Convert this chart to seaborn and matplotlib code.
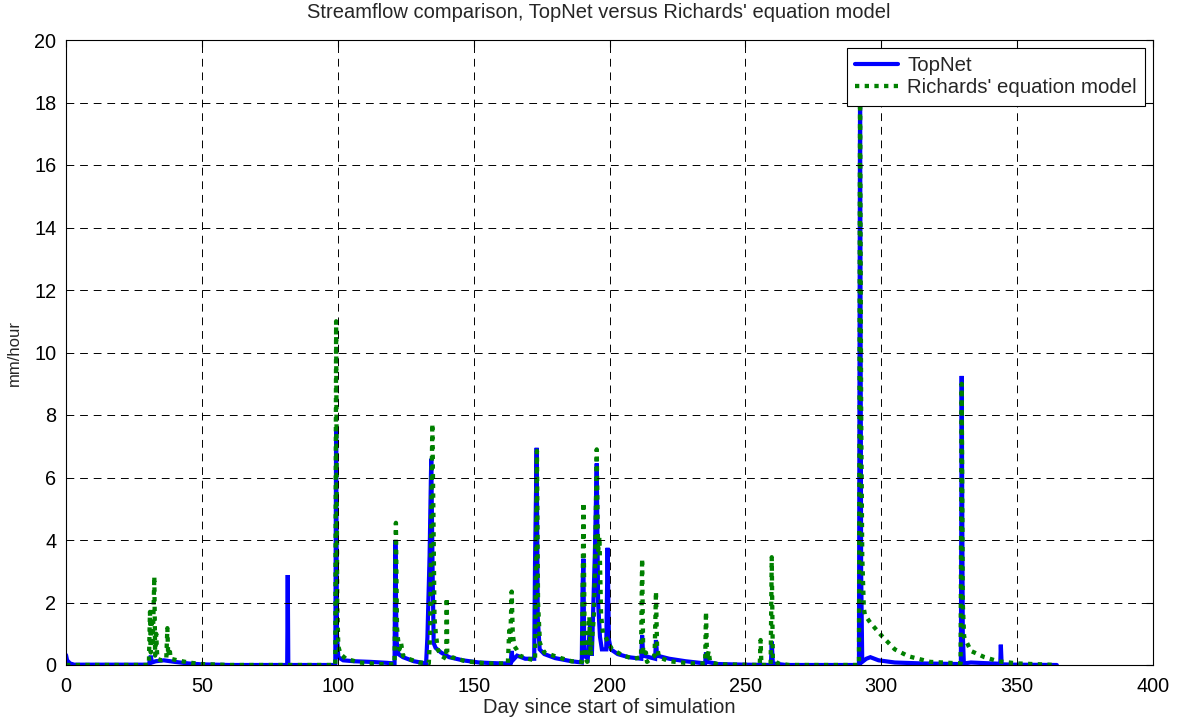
import numpy as np
import pandas as pd
import matplotlib
matplotlib.use("Agg")
import matplotlib.pyplot as plt
import seaborn as sns

# ---------------- data ----------------
topnet_days = [0, 0.4, 1.5, 3, 30.5, 31.2, 31.6, 33, 36, 40, 45, 50, 60,
               81.4, 81.6, 81.8, 99.1, 99.4, 99.7, 100.2, 102, 106, 112, 118,
               120.9, 121.2, 121.6, 122.3, 124, 128, 132.5, 133, 133.8, 134.4,
               134.9, 135.3, 136, 138, 141, 146, 152, 160, 163.6, 164, 164.4,
               166, 169, 172.3, 172.6, 173.2, 173.6, 174.3, 176, 180, 186, 189.8,
               190.1, 190.4, 190.7, 192, 193, 193.5, 194.6, 195.3, 195.8, 196.5,
               197.2, 198.8, 199.3, 199.8, 200.5, 203, 207, 211.7, 212, 212.4,
               216.8, 217.1, 217.5, 222, 228, 235.2, 235.5, 235.9, 240, 250,
               259.4, 259.7, 260.1, 265, 291.8, 292.2, 292.6, 293.0, 294.5, 296,
               299, 305, 315, 329.3, 329.6, 330, 330.4, 333, 338, 343.8, 344,
               344.3, 350, 364.6]
topnet_flow = [0.32, 0.15, 0.05, 0.01, 0.01, 0.3, 0.08, 0.12, 0.15, 0.1, 0.05, 0.02, 0.0,
               0.0, 2.88, 0.0, 0.0, 7.6, 1.0, 0.25, 0.15, 0.12, 0.1, 0.07,
               0.05, 4.0, 0.8, 0.35, 0.25, 0.12, 0.05, 0.9, 3.5, 6.6,
               3.0, 0.7, 0.55, 0.4, 0.25, 0.15, 0.08, 0.05, 0.05, 0.45, 0.15,
               0.3, 0.2, 0.2, 3.3, 6.95, 1.5, 0.5, 0.35, 0.22, 0.12, 0.08,
               2.5, 3.4, 0.3, 0.2, 1.5, 0.3, 3.5, 6.45, 2.0, 0.9,
               0.5, 0.5, 3.75, 0.8, 0.5, 0.35, 0.25, 0.2, 0.95, 0.3,
               0.2, 0.8, 0.3, 0.2, 0.12, 0.05, 0.4, 0.1, 0.03, 0.01,
               0.0, 0.75, 0.05, 0.0, 0.0, 18.6, 3.0, 0.1, 0.2, 0.25,
               0.15, 0.08, 0.05, 0.03, 9.25, 1.0, 0.05, 0.08, 0.06, 0.04, 0.65,
               0.02, 0.01, 0.0]

richards_days = [0, 30.5, 30.9, 31.2, 31.5, 31.9, 32.5, 32.8, 33.2, 33.6, 35, 36.9,
                 37.3, 37.6, 38.1, 38.5, 41, 45, 50, 60, 99.1, 99.4, 99.8, 100.2,
                 101, 103, 108, 115, 120.9, 121.4, 121.8, 122.2, 122.7, 123.3, 124,
                 126, 130, 133.5, 134, 134.4, 134.8, 135.2, 135.6, 136.1, 136.8, 138,
                 139.9, 140.1, 140.3, 142, 147, 155, 162.6, 163.1, 163.5, 164.0,
                 164.4, 165, 165.8, 167, 170, 172.6, 172.9, 173.3, 173.7, 174.4,
                 176, 181, 186, 189.9, 190.4, 190.9, 191.8, 192.6, 193.1, 194.2,
                 194.7, 195.3, 195.8, 196.3, 196.9, 197.6, 198.6, 199.5, 201, 205,
                 209, 211.6, 212, 212.4, 213.4, 213.8, 216.6, 217.1, 217.5, 218.2,
                 222, 230, 235.2, 235.5, 235.9, 236.5, 237, 240, 255.3, 255.6, 255.9,
                 259.3, 259.7, 260.1, 262, 266, 291.8, 292.2, 292.6, 293.0, 293.6,
                 294, 296, 300, 305, 310, 318, 329.2, 329.6, 330.0, 330.5, 333, 338,
                 343, 350, 364.6]
richards_flow = [0.0, 0.0, 1.7, 0.4, 1.5, 0.6, 2.83, 0.3, 1.0, 0.2, 0.15, 0.2,
                 1.18, 0.3, 0.55, 0.2, 0.15, 0.08, 0.03, 0.0, 0.0, 11.0, 2.0, 0.6,
                 0.35, 0.2, 0.08, 0.03, 0.02, 4.55, 1.2, 0.8, 0.5, 0.7, 0.3,
                 0.2, 0.08, 0.05, 1.0, 4.6, 7.72, 4.8, 1.5, 1.0, 0.5, 0.3,
                 0.2, 2.15, 0.4, 0.25, 0.12, 0.05, 0.05, 1.1, 0.8, 2.35,
                 1.0, 0.6, 0.5, 0.3, 0.2, 0.15, 3.0, 6.85, 2.0, 0.7,
                 0.4, 0.25, 0.12, 0.1, 5.2, 0.3, 0.1, 1.55, 0.3, 1.5,
                 3.2, 6.9, 3.6, 4.1, 1.6, 1.0, 0.9, 0.7, 0.5, 0.3,
                 0.2, 0.25, 3.4, 0.3, 0.4, 0.1, 0.3, 2.35, 0.6, 0.25,
                 0.12, 0.05, 0.05, 1.7, 0.2, 0.45, 0.1, 0.02, 0.0, 0.8, 0.0,
                 0.0, 3.45, 0.2, 0.05, 0.0, 0.0, 18.3, 8.2, 3.5, 1.8,
                 1.6, 1.35, 0.95, 0.5, 0.28, 0.1, 0.05, 9.0, 2.0, 0.9, 0.45, 0.25,
                 0.12, 0.05, 0.0]

series_names = ["TopNet", "Richards' equation model"]
x_ticks = [0, 50, 100, 150, 200, 250, 300, 350, 400]
y_ticks = [0, 2, 4, 6, 8, 10, 12, 14, 16, 18, 20]

# ---------------- plot ----------------
sns.set_style("white")
plt.rcParams['font.family'] = ['Liberation Sans', 'DejaVu Sans']

df_top = pd.DataFrame({"day": topnet_days, "flow": topnet_flow})
df_ric = pd.DataFrame({"day": richards_days, "flow": richards_flow})

fig = plt.figure(figsize=(11.78, 7.18), dpi=100)
ax = fig.add_axes([66 / 1178, 53 / 718, 1087 / 1178, 625 / 718])

sns.lineplot(data=df_top, x="day", y="flow", ax=ax, color=(0, 0, 1),
             linewidth=3.0, estimator=None, sort=False, label=series_names[0])
sns.lineplot(data=df_ric, x="day", y="flow", ax=ax, color=(0, 0.5, 0),
             linewidth=3.1, estimator=None, sort=False, label=series_names[1],
             linestyle=(0, (1, 1.25)))
for ln in ax.get_lines():
    ln.set_dash_capstyle("butt")
    ln.set_solid_joinstyle("miter")

ax.set_xlim(0, 400)
ax.set_ylim(0, 20)
ax.set_xticks(x_ticks)
ax.set_yticks(y_ticks)
ax.grid(True, color="black", linestyle=(0, (8, 6)), linewidth=0.7)
ax.set_axisbelow(False)
ax.tick_params(direction="in", length=5, width=0.8, top=True, right=True,
               labelsize=14.3, colors="black")
ax.tick_params(axis="x", pad=9)
ax.tick_params(axis="y", pad=7)
for sp in ax.spines.values():
    sp.set_visible(True)
    sp.set_color("black")
    sp.set_linewidth(0.8)

ax.set_xlabel("Day since start of simulation", fontsize=14.5, labelpad=1)
ax.set_ylabel("mm/hour", fontsize=12, labelpad=9)
ax.set_title("Streamflow comparison, TopNet versus Richards' equation model",
             fontsize=14.5, pad=16, x=(599 - 66) / 1087)

leg = ax.legend(loc="upper right", fontsize=14.7, frameon=True, fancybox=False,
                edgecolor="black", framealpha=1, borderpad=0.4,
                handlelength=2.1, handletextpad=0.45, labelspacing=0.15,
                borderaxespad=0.4)
leg.get_frame().set_linewidth(0.8)

fig.savefig("out.png", dpi=100)
